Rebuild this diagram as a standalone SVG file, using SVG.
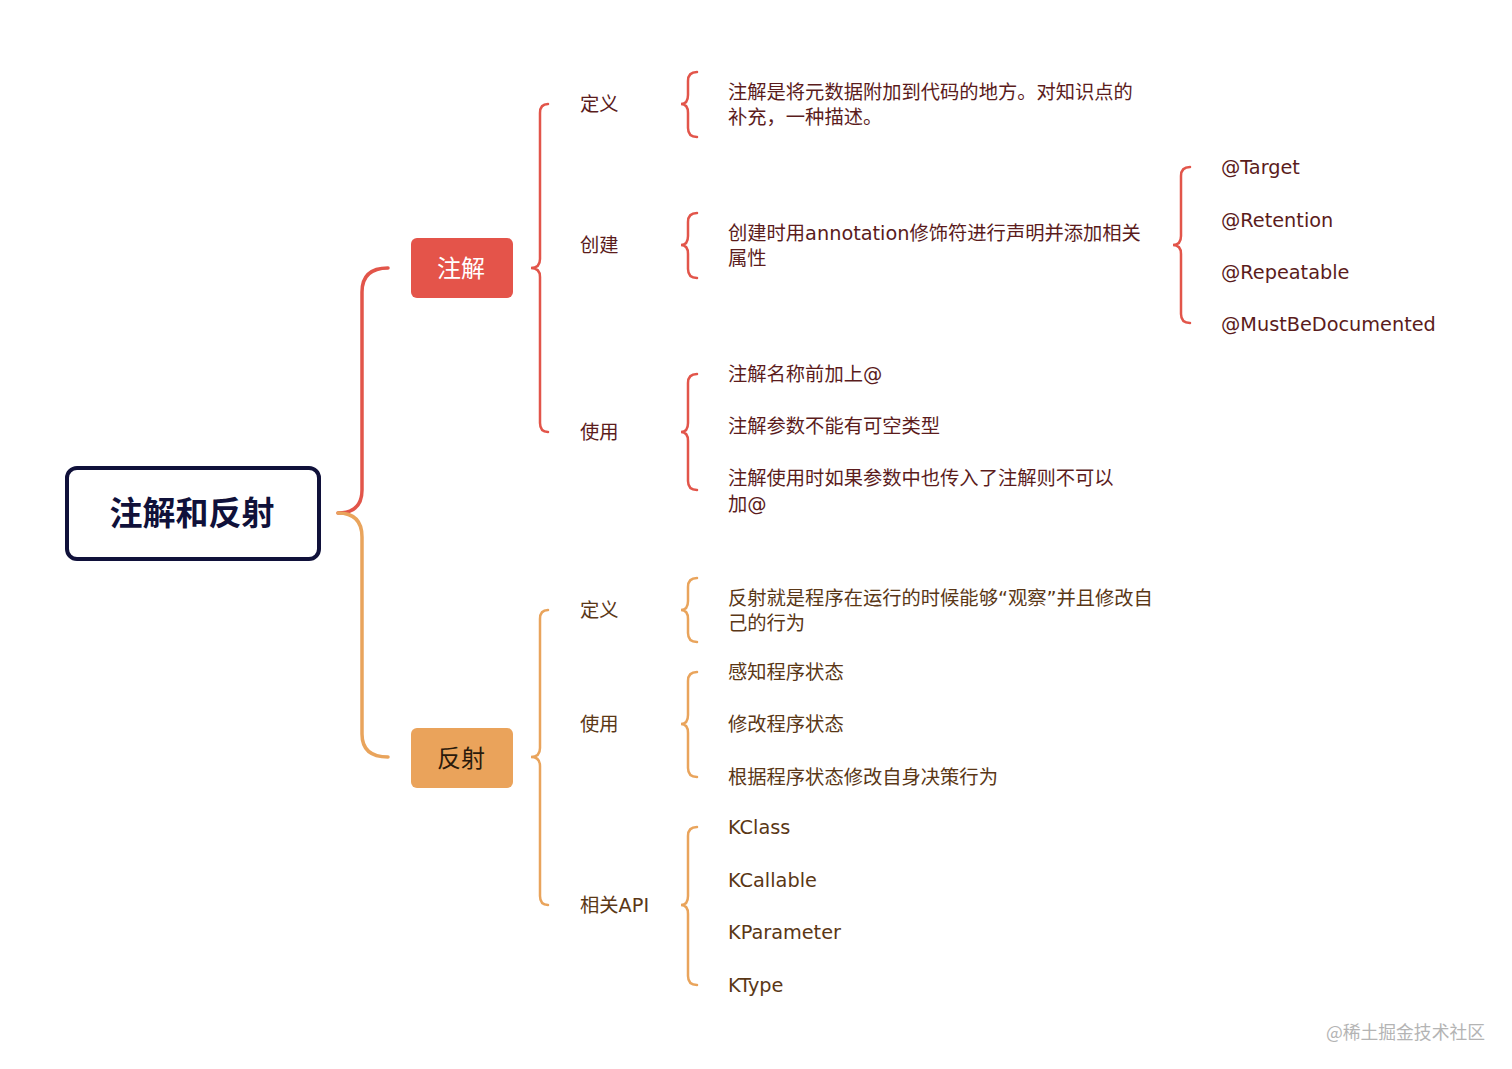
<svg xmlns="http://www.w3.org/2000/svg" width="1512" height="1069" viewBox="0 0 1512 1069">
<style>
.t{font-family:"DejaVu Sans","Noto Sans CJK SC",sans-serif;font-size:19.3px;dominant-baseline:central}
.r{fill:#5b1c1c}
.o{fill:#5a3716}
.lr{fill:none;stroke:#e2554a;stroke-width:2.5;stroke-linecap:round}
.lo{fill:none;stroke:#e9a45c;stroke-width:2.5;stroke-linecap:round}
.main{stroke-width:3.5}
</style>
<rect width="1512" height="1069" fill="#ffffff"/>
<g id="connectors">
<path class="lr main" d="M388 268 Q362 268 362 292 L362 490 Q362 513 338 513"/>
<path class="lo main" d="M338 513 Q362 513 362 537 L362 734 Q362 757 388 757"/>
<path class="lr" d="M548 104 Q540 104 540 113 L540 259 Q540 268 531 268 Q540 268 540 277 L540 423 Q540 432 548 432"/>
<path class="lr" d="M697 72 Q688 72 688 81 L688 95 Q688 104 681 104 Q688 104 688 113 L688 128 Q688 137 697 137"/>
<path class="lr" d="M697 213 Q688 213 688 222 L688 236 Q688 245 681 245 Q688 245 688 254 L688 269 Q688 278 697 278"/>
<path class="lr" d="M697 374 Q688 374 688 383 L688 423 Q688 432 681 432 Q688 432 688 441 L688 481 Q688 490 697 490"/>
<path class="lr" d="M1190 167 Q1181 167 1181 176 L1181 236 Q1181 245 1173 245 Q1181 245 1181 254 L1181 314 Q1181 323 1190 323"/>
<path class="lo" d="M548 610 Q540 610 540 619 L540 748 Q540 757 531 757 Q540 757 540 766 L540 896 Q540 905 548 905"/>
<path class="lo" d="M697 578 Q688 578 688 587 L688 601 Q688 610 681 610 Q688 610 688 619 L688 633 Q688 642 697 642"/>
<path class="lo" d="M697 672 Q688 672 688 681 L688 715 Q688 724 681 724 Q688 724 688 733 L688 768 Q688 777 697 777"/>
<path class="lo" d="M697 827 Q688 827 688 836 L688 896 Q688 905 681 905 Q688 905 688 914 L688 976 Q688 985 697 985"/>
</g>
<g id="root">
<rect x="67" y="468" width="252" height="91" rx="10" fill="#ffffff" stroke="#10113a" stroke-width="4"/>
<text x="192" y="511" text-anchor="middle" font-family="Noto Sans CJK SC,sans-serif" font-size="33" font-weight="bold" fill="#10113a" dominant-baseline="central">注解和反射</text>
</g>
<g id="zhujie">
<rect x="411" y="238" width="102" height="60" rx="6" fill="#e4544a"/>
<text x="461" y="266.5" text-anchor="middle" font-family="Noto Sans CJK SC,sans-serif" font-size="24" fill="#ffffff" dominant-baseline="central">注解</text>
</g>
<g id="fanshe">
<rect x="411" y="728" width="102" height="60" rx="6" fill="#eaa35b"/>
<text x="461" y="756" text-anchor="middle" font-family="Noto Sans CJK SC,sans-serif" font-size="24" fill="#2a1a0c" dominant-baseline="central">反射</text>
</g>
<g id="zj-def"><text class="t r" x="580" y="104">定义</text></g>
<g id="zj-create"><text class="t r" x="580" y="245">创建</text></g>
<g id="zj-use"><text class="t r" x="580" y="432">使用</text></g>
<g id="zj-def-text"><text class="t r" x="728" y="92">注解是将元数据附加到代码的地方。对知识点的</text><text class="t r" x="728" y="117">补充，一种描述。</text></g>
<g id="zj-create-text"><text class="t r" x="728" y="233">创建时用annotation修饰符进行声明并添加相关</text><text class="t r" x="728" y="258">属性</text></g>
<g id="target"><text class="t r" x="1221" y="167">@Target</text></g>
<g id="retention"><text class="t r" x="1221" y="220">@Retention</text></g>
<g id="repeatable"><text class="t r" x="1221" y="272">@Repeatable</text></g>
<g id="mustbedoc"><text class="t r" x="1221" y="324">@MustBeDocumented</text></g>
<g id="use1"><text class="t r" x="728" y="374">注解名称前加上@</text></g>
<g id="use2"><text class="t r" x="728" y="426">注解参数不能有可空类型</text></g>
<g id="use3"><text class="t r" x="728" y="478">注解使用时如果参数中也传入了注解则不可以</text><text class="t r" x="728" y="504">加@</text></g>
<g id="fs-def"><text class="t o" x="580" y="610">定义</text></g>
<g id="fs-use"><text class="t o" x="580" y="724">使用</text></g>
<g id="fs-api"><text class="t o" x="580" y="905">相关API</text></g>
<g id="fs-def-text"><text class="t o" x="728" y="598">反射就是程序在运行的时候能够“观察”并且修改自</text><text class="t o" x="728" y="623">己的行为</text></g>
<g id="fs-use1"><text class="t o" x="728" y="672">感知程序状态</text></g>
<g id="fs-use2"><text class="t o" x="728" y="724">修改程序状态</text></g>
<g id="fs-use3"><text class="t o" x="728" y="777">根据程序状态修改自身决策行为</text></g>
<g id="kclass"><text class="t o" x="728" y="827">KClass</text></g>
<g id="kcallable"><text class="t o" x="728" y="880">KCallable</text></g>
<g id="kparameter"><text class="t o" x="728" y="932">KParameter</text></g>
<g id="ktype"><text class="t o" x="728" y="985">KType</text></g>
<text x="1485" y="1031" text-anchor="end" font-family="Noto Sans CJK SC,sans-serif" font-size="17.8" fill="#b4b4b4" dominant-baseline="central">@稀土掘金技术社区</text>
</svg>
